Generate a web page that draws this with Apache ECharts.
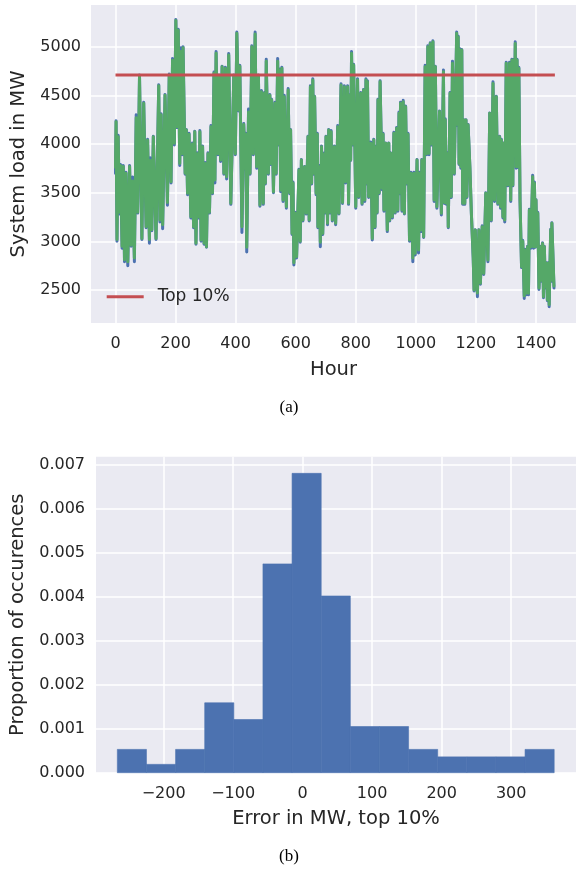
<!DOCTYPE html>
<html><head><meta charset="utf-8">
<script src="https://cdn.jsdelivr.net/npm/echarts@6/dist/echarts.min.js"></script>
<style>html,body{margin:0;padding:0;background:#fff}#c{width:576px;height:871px}</style>
</head><body><div id="c"></div>
<script>
// ---- (a) system load ----
const hours = [0,2,5,9,13,17,22,26,30,35,41,47,52,57,63,69,74,80,88,94,102,107,113,116,121,126,135,144,148,152,157,165,173,179,185,190,196,201,205,209,214,218,222,225,232,236,240,245,251,256,260,264,268,273,278,281,285,290,295,299,303,308,313,318,323,328,331,335,341,345,350,355,361,366,370,377,384,394,399,404,410,414,421,427,432,434,437,443,448,454,459,465,470,476,481,486,492,496,499,502,509,514,516,520,526,531,535,540,543,546,550,554,558,562,569,575,580,583,588,591,594,598,603,611,615,619,624,630,635,641,645,649,653,657,660,663,668,672,674,679,682,686,690,696,698,701,706,710,714,718,722,729,733,740,744,751,756,762,766,773,776,781,783,786,790,793,800,806,810,817,821,826,830,834,837,839,843,850,855,860,864,868,871,874,878,881,888,891,894,900,905,910,913,916,922,927,931,936,940,944,947,949,954,958,962,966,970,974,979,984,990,994,998,1004,1009,1013,1017,1020,1026,1031,1036,1040,1044,1048,1052,1057,1061,1065,1070,1079,1085,1092,1095,1098,1102,1106,1108,1114,1118,1122,1128,1136,1139,1141,1144,1147,1150,1153,1156,1160,1163,1167,1170,1174,1180,1185,1191,1194,1198,1205,1210,1215,1221,1226,1233,1240,1246,1251,1257,1262,1268,1273,1279,1282,1285,1290,1293,1296,1301,1306,1312,1316,1320,1323,1326,1328,1331,1334,1337,1340,1343,1347,1352,1356,1361,1364,1367,1372,1375,1378,1383,1389,1392,1395,1398,1400,1403,1406,1410,1416,1419,1422,1425,1428,1431,1435,1438,1441,1444,1449,1451,1453,1460];

const actualLoad = [3700,4240,3000,4090,3280,3790,2930,3780,2790,3710,
2750,3780,2950,3660,2790,4300,3290,4710,3020,4430,
3140,4050,2980,3860,3110,4080,3020,4610,3200,4310,
3130,4510,3370,4720,3600,4880,3990,5280,4170,5180,
3780,4990,3890,5000,3690,4150,3480,4110,3240,4010,
3140,4130,2970,3910,3240,4140,3000,3980,2970,3810,
2940,3910,3290,4190,3490,4740,3600,4950,3890,4710,
3820,4800,3690,4790,3640,4930,3380,4710,3890,5150,
4340,4810,3090,4210,3740,4110,2890,4360,3690,5010,
3890,5150,3750,4710,3360,4550,3380,4530,3590,4870,
3690,4510,3790,4460,3500,4430,3690,4880,3990,4770,
3510,4790,3410,4500,3340,4570,3490,4150,3070,3610,
2757,3300,2830,3740,2990,3840,3210,3770,3280,4080,
3210,4600,3590,4670,3690,4490,3480,4110,3140,3780,
2945,3980,3070,3910,3290,4080,3170,4150,3290,4140,
3210,3980,3170,4190,3280,4620,3390,4600,3600,4600,
3380,4510,3830,4950,3990,4820,3340,4670,3450,4530,
3380,4560,3410,4670,3590,4650,3450,4020,3014,4050,
3140,3980,3290,4460,3490,4650,3530,4110,3310,4010,
3100,4010,3210,3910,3240,4120,3290,4170,3310,4330,
3490,4430,3310,4450,3280,4390,3590,4110,3000,3710,
2791,3710,2860,3840,2880,3710,3100,3840,3040,4810,
3890,5010,3890,5040,3990,5060,3410,4800,3340,4340,
3270,4760,3390,4260,3380,3910,3140,4530,3450,4850,
3690,5150,4190,5110,3790,4980,3750,4970,3380,4250,
3380,4250,3450,4200,3760,3280,2830,2490,3120,2431,
3120,2560,3160,2660,3500,2790,4320,3210,4640,3410,
4490,3380,4080,3340,4050,3240,4010,3200,4840,3570,
4840,3410,4870,3570,4870,3990,5050,3750,4870,3760,
4790,3410,2730,3010,2414,2920,2450,2950,2450,3330,
2930,3680,2930,3610,2940,3430,2970,3300,2505,2950,
2590,2985,2420,2950,2520,2780,2390,2780,2328,3125,
2590,3190,2520];

const predictedLoad = [3760,4230,3020,4076,3300,3780,2950,3770,2810,3700,
2790,3770,2960,3620,2830,4270,3300,4700,3030,4420,
3150,4040,3020,3830,3120,4075,3030,4600,3220,4300,
3170,4500,3400,4710,3613,4860,4007,5270,4178,5170,
3800,4950,3900,4990,3700,4144,3494,4100,3254,4000,
3151,4127,2980,3900,3250,4127,3014,3973,2980,3800,
2945,3900,3300,4178,3500,4726,3630,4932,3900,4700,
3836,4795,3700,4778,3665,4915,3391,4700,3900,5137,
4350,4800,3150,4200,3750,4100,2940,4330,3700,5000,
3900,5130,3767,4700,3374,4538,3391,4521,3600,4850,
3700,4500,3800,4452,3510,4418,3700,4850,4000,4760,
3527,4778,3425,4486,3356,4555,3500,4144,3082,3600,
2780,3288,2842,3733,3000,3836,3219,3767,3288,4075,
3220,4589,3600,4658,3700,4486,3494,4100,3151,3767,
2990,3973,3082,3900,3300,4075,3185,4144,3300,4127,
3220,3973,3185,4178,3288,4606,3400,4589,3613,4589,
3391,4500,3836,4932,4000,4812,3356,4658,3460,4521,
3391,4555,3425,4658,3600,4640,3460,4007,3030,4041,
3151,3973,3300,4452,3500,4640,3545,4100,3322,4007,
3117,4007,3220,3904,3254,4110,3300,4161,3322,4315,
3500,4418,3322,4435,3288,4384,3600,4100,3014,3700,
2830,3700,2877,3836,2911,3700,3117,3836,3048,4795,
3900,5000,3904,5034,4000,5051,3425,4795,3356,4333,
3288,4743,3400,4246,3391,3900,3151,4521,3460,4829,
3700,5137,4200,5100,3800,4966,3767,4966,3391,4246,
3391,4246,3460,4195,3767,3288,2842,2500,3117,2470,
3117,2569,3151,2671,3494,2808,4315,3220,4623,3425,
4486,3391,4075,3356,4041,3254,4007,3220,4829,3580,
4829,3425,4863,3580,4863,4000,5034,3767,4863,3767,
4778,3425,2740,3000,2440,2911,2466,2945,2466,3322,
2945,3665,2945,3596,2945,3425,2979,3288,2520,2945,
2600,2979,2431,2945,2534,2774,2400,2774,2350,3117,
2600,3185,2540];

const top10Hours = [0, 1463];
const top10Load = [4710, 4710];
const hourTicks = [0, 200, 400, 600, 800, 1000, 1200, 1400];
const loadTicks = [2500, 3000, 3500, 4000, 4500, 5000];

// ---- (b) error histogram ----
const errorBinEdges = [-266.6,-224.7,-182.8,-140.9,-99.0,-57.1,-15.2,26.7,68.6,110.5,152.4,194.3,236.2,278.1,320.0,361.9];
const errorDensity = [0.00053,0.00019,0.00053,0.00159,0.00121,0.00475,0.00681,0.00402,0.00105,0.00105,0.00053,0.00036,0.00036,0.00036,0.00053];
const errorTicks = [-200, -100, 0, 100, 200, 300];
const densityTicks = [0, 0.001, 0.002, 0.003, 0.004, 0.005, 0.006, 0.007];

const FONT = 'DejaVu Sans';
const TXT = '#262626';
const BG = '#EAEAF2';
const BLUE = '#4C72B0', GREEN = '#55A868', RED = '#C44E52';

function axisBase(ticks, fmt, margin) {
  return {
    axisLine: { show: false },
    axisTick: { show: false, customValues: ticks },
    axisLabel: { customValues: ticks, formatter: fmt, fontFamily: FONT, fontSize: 16, color: TXT, margin: margin },
    splitLine: { show: true, lineStyle: { color: '#ffffff', width: 1.5 } },
    nameLocation: 'middle',
    nameTextStyle: { fontFamily: FONT, fontSize: 19.5, color: TXT }
  };
}
const minusFmt = v => (v < 0 ? '\u2212' + Math.abs(v) : String(v));

const chart = echarts.init(document.getElementById('c'), null, { renderer: 'canvas' });
chart.setOption({
  animation: false,
  backgroundColor: '#ffffff',
  grid: [
    { left: 91, top: 5, width: 489.4, height: 318, show: true, backgroundColor: BG, borderWidth: 0 },
    { left: 96, top: 456.7, width: 484.4, height: 316, show: true, backgroundColor: BG, borderWidth: 0 }
  ],
  xAxis: [
    Object.assign(axisBase(hourTicks, v => String(v), 13), {
      type: 'value', gridIndex: 0, min: -81.5, max: 1533.3, name: 'Hour', nameGap: 36.5
    }),
    Object.assign(axisBase(errorTicks, minusFmt, 13), {
      type: 'value', gridIndex: 1, min: -297.3, max: 393.3, name: 'Error in MW, top 10%', nameGap: 36.4
    })
  ],
  yAxis: [
    Object.assign(axisBase(loadTicks, v => String(v), 10), {
      type: 'value', gridIndex: 0, min: 2161, max: 5428.5, name: 'System load in MW', nameGap: 61.3
    }),
    Object.assign(axisBase(densityTicks, v => v.toFixed(3), 11), {
      type: 'value', gridIndex: 1, min: 0, max: 0.007189, name: 'Proportion of occurences', nameGap: 66.3
    })
  ],
  legend: {
    data: [{ name: 'Top 10%', icon: 'rect' }],
    left: 106.7, top: 288.2, padding: 0,
    itemWidth: 37, itemHeight: 3,
    textStyle: { fontFamily: FONT, fontSize: 17, color: TXT, padding: [0, 0, 0, 9] }
  },
  series: [
    {
      name: 'Actual', type: 'line', xAxisIndex: 0, yAxisIndex: 0, showSymbol: false, symbol: 'none',
      data: hours.map((h, i) => [h, actualLoad[i]]),
      lineStyle: { color: BLUE, width: 3, join: 'round', cap: 'round' }, itemStyle: { color: BLUE }, z: 2
    },
    {
      name: 'Predicted', type: 'line', xAxisIndex: 0, yAxisIndex: 0, showSymbol: false, symbol: 'none',
      data: hours.map((h, i) => [h, predictedLoad[i]]),
      lineStyle: { color: GREEN, width: 3, join: 'round', cap: 'round' }, itemStyle: { color: GREEN }, z: 3
    },
    {
      name: 'Top 10%', type: 'line', xAxisIndex: 0, yAxisIndex: 0, showSymbol: false, symbol: 'none',
      data: top10Hours.map((h, i) => [h, top10Load[i]]),
      lineStyle: { color: RED, width: 3 }, itemStyle: { color: RED }, z: 4
    },
    {
      name: 'Error', type: 'custom', xAxisIndex: 1, yAxisIndex: 1,
      data: errorDensity.map((d, i) => [errorBinEdges[i], errorBinEdges[i + 1], d]),
      encode: { x: [0, 1], y: 2 },
      renderItem: function (params, api) {
        const p0 = api.coord([api.value(0), api.value(2)]);
        const p1 = api.coord([api.value(1), 0]);
        return {
          type: 'rect',
          shape: { x: p0[0], y: p0[1], width: p1[0] - p0[0], height: p1[1] - p0[1] },
          style: { fill: BLUE, stroke: BLUE, lineWidth: 0.6 }
        };
      }
    }
  ],
  graphic: [
    { type: 'text', x: 289, y: 408, style: { text: '(a)', fontFamily: 'Liberation Serif', fontSize: 17, fill: '#000', align: 'center', verticalAlign: 'middle' } },
    { type: 'text', x: 289, y: 857, style: { text: '(b)', fontFamily: 'Liberation Serif', fontSize: 17, fill: '#000', align: 'center', verticalAlign: 'middle' } }
  ]
});
</script>
</body></html>
